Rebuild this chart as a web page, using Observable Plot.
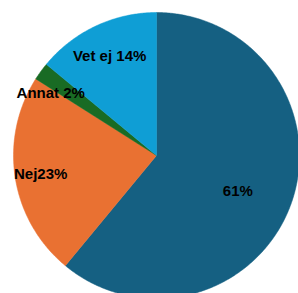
<!DOCTYPE html>
<html><head><meta charset="utf-8">
<script src="https://cdn.jsdelivr.net/npm/d3@7"></script>
<script src="https://cdn.jsdelivr.net/npm/@observablehq/plot@0.6"></script>
<style>body{margin:0;background:#fff;overflow:hidden}</style>
</head><body><div id="chart"></div>
<script>
// Data
const categories = ["Ja", "Nej", "Annat", "Vet ej"];
const values = [61, 23, 2, 14];
const labels = ["61%", "Nej23%", "Annat 2%", "Vet ej 14%"];
const colors = ["#156082", "#E97132", "#196B24", "#0F9ED5"];

// Layout (label placement, relative to radius / slice mid-angle in degrees)
const labelDist = [0.62, 0.82, 0.86, 0.77];
const labelShift = [3.6, 0, -5.3, 0];

const R = 143;
const arcs = d3.pie().sort(null).value(d => d)(values);
const pts = [];
arcs.forEach((a, i) => {
  const key = categories[i];
  pts.push({key, x: 0, y: 0});
  const n = Math.max(2, Math.ceil((a.endAngle - a.startAngle) / 0.01));
  for (let k = 0; k <= n; k++) {
    const t = a.startAngle + (a.endAngle - a.startAngle) * k / n;
    pts.push({key, x: R * Math.sin(t), y: -R * Math.cos(t)});
  }
  pts.push({key, x: 0, y: 0});
});
const labelData = arcs.map((a, i) => {
  const m = (a.startAngle + a.endAngle) / 2 + labelShift[i] * Math.PI / 180;
  return {text: labels[i], x: R * labelDist[i] * Math.sin(m), y: -R * labelDist[i] * Math.cos(m)};
});

const chart = Plot.plot({
  width: 298,
  height: 293,
  margin: 0,
  x: {domain: [-156, 142], range: [0, 298], axis: null},
  y: {domain: [-155, 138], range: [0, 293], axis: null},
  color: {domain: categories, range: colors},
  style: {background: "#fff"},
  marks: [
    Plot.line(pts, {x: "x", y: "y", z: "key", fill: "key", stroke: "key", strokeWidth: 0.5, curve: "linear"}),
    Plot.text(labelData, {x: "x", y: "y", text: "text", fill: "#000", fontSize: 15, fontWeight: "bold", fontFamily: "Liberation Sans, Arial, sans-serif"})
  ]
});
document.getElementById("chart").appendChild(chart);
</script>
</body></html>
